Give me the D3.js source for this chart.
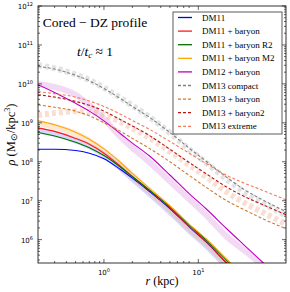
<!doctype html>
<html>
<head>
<meta charset="utf-8" />
<script src="https://d3js.org/d3.v7.min.js"></script>
<style>
  body { margin: 0; background: #fff; }
  svg { display: block; }
</style>
</head>
<body>
<svg id="chart" width="290" height="292"></svg>
<script>
var radii = [0.2, 0.3, 0.5, 0.7, 1, 1.5, 2, 3, 5, 8, 12, 20, 30, 50, 85];

// log10 of density (Msun/kpc^3)
var dm11        = [8.32, 8.32, 8.29, 8.22, 8.08, 7.80, 7.58, 7.25, 6.80, 6.33, 5.95, 5.40, 5.00, 4.5, 4.0];
var dm11Bar     = [8.87, 8.78, 8.60, 8.45, 8.22, 7.88, 7.62, 7.27, 6.82, 6.34, 5.96, 5.41, 5.00, 4.5, 4.0];
var dm11BarR2   = [8.75, 8.66, 8.50, 8.36, 8.16, 7.86, 7.62, 7.28, 6.84, 6.38, 6.00, 5.47, 5.05, 4.5, 4.0];
var dm11BarM2   = [9.05, 8.95, 8.76, 8.58, 8.33, 7.98, 7.70, 7.33, 6.87, 6.40, 6.03, 5.50, 5.08, 4.5, 4.0];
var dm12Bar     = [9.98, 9.78, 9.50, 9.30, 9.05, 8.72, 8.48, 8.16, 7.66, 7.18, 6.80, 6.28, 5.88, 5.38, 4.9];
var dm13Compact = [10.45, 10.38, 10.22, 10.08, 9.88, 9.62, 9.42, 9.15, 8.75, 8.35, 8.02, 7.60, 7.30, 7.00, 6.72];
var dm13Bar     = [9.46, 9.40, 9.30, 9.18, 9.00, 8.78, 8.60, 8.35, 8.00, 7.65, 7.35, 7.00, 6.78, 6.52, 6.28];
var dm13Bar2    = [9.72, 9.66, 9.55, 9.45, 9.30, 9.08, 8.92, 8.68, 8.32, 7.98, 7.70, 7.35, 7.12, 6.88, 6.64];
var dm13Extreme = [9.80, 9.75, 9.66, 9.56, 9.42, 9.22, 9.06, 8.84, 8.52, 8.22, 7.96, 7.65, 7.46, 7.25, 7.02];

// simulation bands (log10 density)
var dm11Sim     = [8.80, 8.72, 8.55, 8.40, 8.18, 7.84, 7.57, 7.20, 6.72, 6.24, 5.86, 5.32, 4.92, 4.4, 3.9];
var dm11BarSim  = [9.00, 8.90, 8.72, 8.54, 8.28, 7.92, 7.64, 7.26, 6.78, 6.30, 5.92, 5.38, 4.98, 4.4, 3.9];
var dm12Sim     = [10.00, 9.92, 9.72, 9.45, 9.10, 8.64, 8.36, 8.00, 7.50, 7.04, 6.64, 6.08, 5.74, 5.32, 4.9];
var dm13CompSim = [10.48, 10.40, 10.24, 10.10, 9.90, 9.64, 9.44, 9.16, 8.74, 8.32, 7.98, 7.55, 7.24, 6.92, 6.62];
var dm13ExtSim  = [9.20, 9.25, 9.30, 9.28, 9.20, 9.02, 8.86, 8.62, 8.26, 7.92, 7.62, 7.22, 6.96, 6.68, 6.40];

var yTicks = [1e6, 1e7, 1e8, 1e9, 1e10, 1e11, 1e12];
var xTicks = [1, 10];

var svg = d3.select("#chart");
var mLeft = 38, mRight = 286, mTop = 6, mBottom = 263;

var x = d3.scaleLog().domain([0.2, 85]).range([mLeft, mRight]);
var y = d3.scaleLog().domain([Math.pow(10, 5.4), 1e12]).range([mBottom, mTop]);

svg.append("defs").append("clipPath").attr("id", "clip")
  .append("rect").attr("x", mLeft).attr("y", mTop)
  .attr("width", mRight - mLeft).attr("height", mBottom - mTop);

var plot = svg.append("g").attr("clip-path", "url(#clip)");

function line(vals) {
  return d3.line()
    .x((d, i) => x(radii[i]))
    .y(d => y(Math.pow(10, d)))
    .curve(d3.curveMonotoneX)(vals);
}

// bands first
var bands = [
  {v: dm11Sim, c: "#8c8cf0", w: 6, o: 0.35, dash: null},
  {v: dm11BarSim, c: "#ffb060", w: 6, o: 0.3, dash: null},
  {v: dm12Sim, c: "#d68ade", w: 6, o: 0.32, dash: null},
  {v: dm13CompSim, c: "#b0b0b0", w: 6, o: 0.35, dash: "4,3"},
  {v: dm13ExtSim, c: "#f0a080", w: 6, o: 0.35, dash: "4,3"}
];
bands.forEach(b => {
  plot.append("path").attr("d", line(b.v))
    .attr("fill", "none").attr("stroke", b.c)
    .attr("stroke-width", b.w).attr("stroke-opacity", b.o)
    .attr("stroke-dasharray", b.dash);
});

var series = [
  {name: "DM11", v: dm11, c: "#0000ff", dash: null},
  {name: "DM11 + baryon", v: dm11Bar, c: "#ff1a1a", dash: null},
  {name: "DM11 + baryon R2", v: dm11BarR2, c: "#007000", dash: null},
  {name: "DM11 + baryon M2", v: dm11BarM2, c: "#ffa500", dash: null},
  {name: "DM12 + baryon", v: dm12Bar, c: "#bf00bf", dash: null},
  {name: "DM13 compact", v: dm13Compact, c: "#808080", dash: "3,2"},
  {name: "DM13 + baryon", v: dm13Bar, c: "#d2782d", dash: "3,2"},
  {name: "DM13 + baryon2", v: dm13Bar2, c: "#b81414", dash: "3,2"},
  {name: "DM13 extreme", v: dm13Extreme, c: "#f47c5c", dash: "3,2"}
];
series.forEach(s => {
  plot.append("path").attr("d", line(s.v))
    .attr("fill", "none").attr("stroke", s.c)
    .attr("stroke-width", 1.1)
    .attr("stroke-dasharray", s.dash);
});

// frame
svg.append("rect").attr("x", mLeft).attr("y", mTop)
  .attr("width", mRight - mLeft).attr("height", mBottom - mTop)
  .attr("fill", "none").attr("stroke", "#000").attr("stroke-width", 0.8);

// ticks (inward, all sides)
var yMinor = [];
for (var e = 5; e < 12; e++) for (var k = 2; k < 10; k++) {
  var v = k * Math.pow(10, e);
  if (v > y.domain()[0] && v < 1e12) yMinor.push(v);
}
var xMinor = [0.3, 0.4, 0.5, 0.6, 0.7, 0.8, 0.9, 2, 3, 4, 5, 6, 7, 8];
var tg = svg.append("g").attr("stroke", "#000").attr("stroke-width", 0.6);
yMinor.forEach(v => {
  tg.append("line").attr("x1", mLeft).attr("x2", mLeft + 2).attr("y1", y(v)).attr("y2", y(v));
  tg.append("line").attr("x1", mRight).attr("x2", mRight - 2).attr("y1", y(v)).attr("y2", y(v));
});
yTicks.forEach(v => {
  tg.append("line").attr("x1", mLeft).attr("x2", mLeft + 4).attr("y1", y(v)).attr("y2", y(v));
  tg.append("line").attr("x1", mRight).attr("x2", mRight - 4).attr("y1", y(v)).attr("y2", y(v));
});
xMinor.forEach(v => {
  tg.append("line").attr("y1", mBottom).attr("y2", mBottom - 2).attr("x1", x(v)).attr("x2", x(v));
  tg.append("line").attr("y1", mTop).attr("y2", mTop + 2).attr("x1", x(v)).attr("x2", x(v));
});
xTicks.forEach(v => {
  tg.append("line").attr("y1", mBottom).attr("y2", mBottom - 4).attr("x1", x(v)).attr("x2", x(v));
  tg.append("line").attr("y1", mTop).attr("y2", mTop + 4).attr("x1", x(v)).attr("x2", x(v));
});

// tick labels
var lab = svg.append("g").attr("font-family", "DejaVu Sans").attr("fill", "#000");
yTicks.forEach(v => {
  var t = lab.append("text").attr("x", 33).attr("y", y(v) + 3)
    .attr("text-anchor", "end").attr("font-size", 7);
  t.append("tspan").text("10");
  t.append("tspan").attr("font-size", 5).attr("dy", -3).text(Math.round(Math.log10(v)));
});
xTicks.forEach(v => {
  var t = lab.append("text").attr("x", x(v)).attr("y", 275)
    .attr("text-anchor", "middle").attr("font-size", 7);
  t.append("tspan").text("10");
  t.append("tspan").attr("font-size", 5).attr("dy", -3).text(Math.round(Math.log10(v)));
});

// axis labels
var serif = "Liberation Serif";
svg.append("text").attr("x", (mLeft + mRight) / 2).attr("y", 285)
  .attr("text-anchor", "middle").attr("font-family", serif).attr("font-size", 12)
  .html('<tspan font-style="italic">r</tspan> (kpc)');
svg.append("text").attr("transform", "translate(15," + ((mTop + mBottom) / 2) + ") rotate(-90)")
  .attr("text-anchor", "middle").attr("font-family", serif).attr("font-size", 12.5)
  .html('<tspan font-style="italic">ρ</tspan> (M<tspan font-size="9" dy="2">⊙</tspan><tspan dy="-2">/kpc</tspan><tspan font-size="8" dy="-5">3</tspan><tspan dy="5">)</tspan>');

// annotations
svg.append("text").attr("x", 95).attr("y", 27).attr("text-anchor", "middle")
  .attr("font-family", serif).attr("font-size", 13.5).text("Cored − DZ profile");
svg.append("text").attr("x", 95).attr("y", 56).attr("text-anchor", "middle")
  .attr("font-family", serif).attr("font-size", 13.5)
  .html('<tspan font-style="italic">t</tspan>/<tspan font-style="italic">t</tspan><tspan font-style="italic" font-size="9" dy="2">c</tspan><tspan dy="-2"> ≈ 1</tspan>');

// legend
var lg = svg.append("g");
lg.append("rect").attr("x", 173).attr("y", 12).attr("width", 109).attr("height", 122)
  .attr("fill", "#fff").attr("stroke", "#333").attr("stroke-width", 0.8);
series.forEach((s, i) => {
  var yy = 17.5 + i * 13.6;
  lg.append("line").attr("x1", 178).attr("x2", 192).attr("y1", yy).attr("y2", yy)
    .attr("stroke", s.c).attr("stroke-width", 1.3).attr("stroke-dasharray", s.dash);
  lg.append("text").attr("x", 202).attr("y", yy + 3)
    .attr("font-family", serif).attr("font-size", 9).text(s.name);
});
</script>
</body>
</html>
